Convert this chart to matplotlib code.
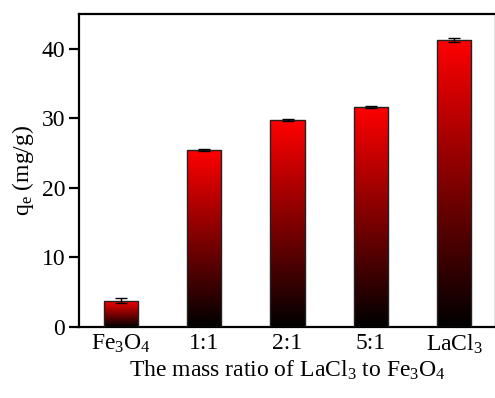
import numpy as np
import matplotlib
matplotlib.use("Agg")
import matplotlib.pyplot as plt
from matplotlib.colors import LinearSegmentedColormap

# --- DATA ---
categories = [r"$\mathregular{Fe_3O_4}$", "1:1", "2:1", "5:1", r"$\mathregular{LaCl_3}$"]
qe_values = [3.8, 25.4, 29.7, 31.6, 41.3]
qe_errors = [0.3, 0.15, 0.15, 0.15, 0.3]

plt.rcParams['font.family'] = 'Liberation Serif'
plt.rcParams['mathtext.fontset'] = 'custom'
plt.rcParams['mathtext.rm'] = 'Liberation Serif'
plt.rcParams['mathtext.it'] = 'Liberation Serif:italic'
plt.rcParams['font.size'] = 17


def plot_bars():
    fig = plt.figure(figsize=(4.95, 3.98), dpi=100)
    ax = fig.add_axes([79 / 495, 1 - 327 / 398, 417 / 495, 313 / 398])

    x = np.arange(len(categories))
    bars = ax.bar(x, qe_values, width=0.41, color='none', edgecolor='#222222',
                  linewidth=1.0, zorder=3)

    # vertical red->black gradient in each bar
    cmap = LinearSegmentedColormap.from_list('rb', ['#000000', '#ff0000'])
    grad = np.linspace(0, 1, 256).reshape(-1, 1)
    for b in bars:
        x0, y0 = b.get_x(), b.get_y()
        w, h = b.get_width(), b.get_height()
        im = ax.imshow(grad, cmap=cmap, origin='lower', aspect='auto',
                       extent=[x0, x0 + w, y0, y0 + h], zorder=2)
        im.set_clip_path(b)

    ax.errorbar(x, qe_values, yerr=qe_errors, fmt='none', ecolor='black',
                elinewidth=1.0, capsize=4, capthick=1.0, zorder=4)

    ax.set_xlim(-0.5, len(categories) - 0.5)
    ax.set_ylim(0, 45)
    ax.set_yticks([0, 10, 20, 30, 40])
    ax.set_xticks(x)
    ax.set_xticklabels(categories)

    for s in ax.spines.values():
        s.set_linewidth(1.6)
    ax.tick_params(axis='y', direction='out', length=7, width=1.6, pad=3)
    ax.tick_params(axis='x', length=0, pad=4)

    ax.set_ylabel(r"$\mathregular{q_e}$ (mg/g)", labelpad=4)
    ax.set_xlabel(r"The mass ratio of $\mathregular{LaCl_3}$ to $\mathregular{Fe_3O_4}$",
                  labelpad=2)

    fig.savefig('out.png', dpi=100)


if __name__ == "__main__":
    plot_bars()
